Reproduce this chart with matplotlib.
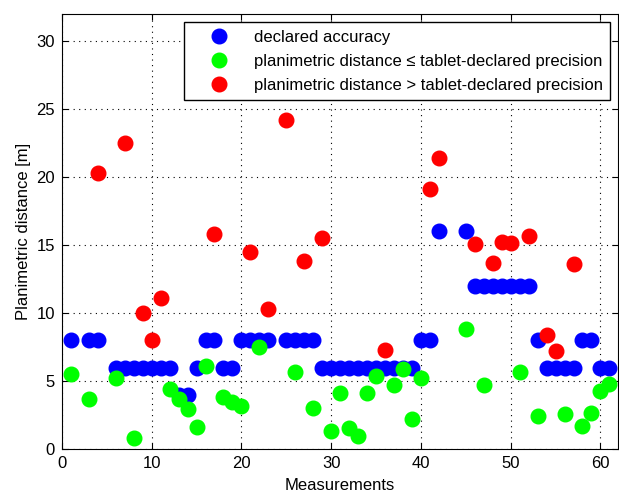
import numpy as np
import matplotlib
matplotlib.use('Agg')
import matplotlib.pyplot as plt

plt.rcParams['font.family'] = ['Liberation Sans', 'DejaVu Sans']

# measurement number, declared accuracy [m], planimetric distance [m]
measurement = [1, 3, 4, 6, 7, 8, 9, 10, 11, 12, 13, 14, 15, 16, 17, 18, 19, 20,
               21, 22, 23, 25, 26, 27, 28, 29, 30, 31, 32, 33, 34, 35, 36, 37,
               38, 39, 40, 41, 42, 45, 46, 47, 48, 49, 50, 51, 52, 53, 54, 55,
               56, 57, 58, 59, 60, 61]
accuracy = [8, 8, 8, 6, 6, 6, 6, 6, 6, 6, 4, 4, 6, 8, 8, 6, 6, 8,
            8, 8, 8, 8, 8, 8, 8, 6, 6, 6, 6, 6, 6, 6, 6, 6,
            6, 6, 8, 8, 16, 16, 12, 12, 12, 12, 12, 12, 12, 8, 6, 6,
            6, 6, 8, 8, 6, 6]
distance = [5.56, 3.66, 20.3, 5.2, 22.5, 0.8, 10.0, 8.0, 11.1, 4.4, 3.7, 2.93, 1.65, 6.1, 15.8, 3.85, 3.49, 3.2,
            14.5, 7.5, 10.3, 24.2, 5.7, 13.8, 3.0, 15.5, 1.36, 4.15, 1.54, 0.97, 4.15, 5.37, 7.32, 4.71,
            5.86, 2.2, 5.2, 19.1, 21.4, 8.8, 15.1, 4.7, 13.7, 15.25, 15.13, 5.65, 15.7, 2.44, 8.42, 7.22,
            2.56, 13.6, 1.7, 2.63, 4.3, 4.78]

x = np.array(measurement)
acc = np.array(accuracy)
dist = np.array(distance)
ok = dist <= acc

fig = plt.figure(figsize=(6.19, 4.92), dpi=100)
ax = fig.add_axes([0.1, 0.087, 0.899, 0.885])

ms = 10.5
ax.plot(x, acc, 'o', color='#0000ff', mec='#0000ff', ms=ms, label='declared accuracy')
ax.plot(x[ok], dist[ok], 'o', color='#00ff00', mec='#00ff00', ms=ms,
        label='planimetric distance \u2264 tablet-declared precision')
ax.plot(x[~ok], dist[~ok], 'o', color='#ff0000', mec='#ff0000', ms=ms,
        label='planimetric distance > tablet-declared precision')

ax.set_xlim(0, 62)
ax.set_ylim(0, 32)
ax.set_xticks(range(0, 61, 10))
ax.set_yticks(range(0, 31, 5))
ax.grid(True, color='black', linestyle=(0, (1, 4)), linewidth=0.8)
ax.tick_params(direction='in', top=True, right=True, labelsize=12, length=4, pad=5)
ax.set_xlabel('Measurements', fontsize=12, labelpad=5)
ax.set_ylabel('Planimetric distance [m]', fontsize=12, labelpad=4)

leg = ax.legend(loc='upper right', fontsize=12, fancybox=False, framealpha=1,
                edgecolor='black', borderaxespad=0.5, handlelength=3.3,
                handletextpad=0.4, labelspacing=0.55, borderpad=0.45)
leg.get_frame().set_linewidth(1.0)

fig.savefig('out.png', dpi=100)
